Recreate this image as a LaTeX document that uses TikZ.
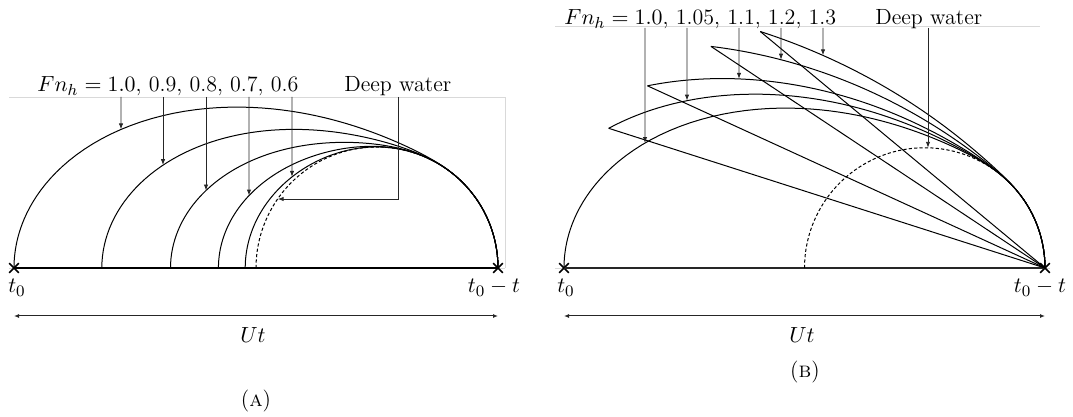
\documentclass[tikz,border=0pt]{standalone}
\usetikzlibrary{arrows.meta,intersections,shapes.misc}
\ExplSyntaxOn
\cs_new:Npn \fpdec #1 { \fp_to_decimal:n { round( #1 , 5 ) } }
\ExplSyntaxOff
\tikzset{
  wave/.style={line width=0.5pt},
  deep/.style={line width=0.5pt, dash pattern=on 1.6pt off 1.1pt},
  pointer/.style={line width=0.45pt, black!85, -{Latex[length=3pt,width=2.2pt]}},
  span/.style={line width=0.5pt, black!85, {Latex[length=2.5pt,width=2pt]}-{Latex[length=2.5pt,width=2pt]}},
  endmark/.style={draw, cross out, line width=0.8pt, minimum size=4pt, inner sep=0pt},
  faint/.style={gray!30, line width=0.4pt},
  lbl/.style={font=\fontsize{11}{13}\selectfont, inner sep=0pt},
}
% points of the wave locus for Froude number #1, q from #2+(#3..)^2 up to #4, then deep-water circle
\newcommand\BuildCurve[4]{%
  \gdef\PtsList{}%
  \edef\SmaxV{\fpeval{sqrt((#4)-(#2))}}%
  \foreach \i in {0,...,120}{%
    \edef\qv{\fpeval{(#2)+((#3)+(\SmaxV-(#3))*\i/120)^2}}%
    \edef\ev{\fpeval{exp(-2*\qv)}}%
    \edef\cv{\fpeval{min(1,sqrt((1-\ev)/(1+\ev)/\qv)/(#1))}}%
    \edef\rv{\fpeval{\cv/2*(1+4*\qv*\ev/(1-\ev*\ev))}}%
    \xdef\PtsList{\PtsList -- (\fpdec{\rv*\cv},\fpdec{\rv*sqrt(1-\cv*\cv)})}%
  }%
  \edef\AngE{\fpeval{2*acosd(sqrt((1-exp(-2*(#4)))/(1+exp(-2*(#4)))/(#4))/(#1))}}%
  \foreach \i in {1,...,40}{%
    \edef\av{\fpeval{\AngE+(180-\AngE)*\i/40}}%
    \xdef\PtsList{\PtsList -- (\fpdec{0.25+0.25*cosd(\av)},\fpdec{0.25*sind(\av)})}%
  }%
}
% #1 F, #2 q0, #3 s0, #4 start coordinate, #5 path name
\newcommand\WaveCurve[5]{%
  \BuildCurve{#1}{#2}{#3}{8}%
  \draw[wave, name path global=#5] (#4) \PtsList;
}
\newcommand\NewtonStep[1]{%
  \edef\TZ{\fpeval{(1-exp(-2*\QZ))/(1+exp(-2*\QZ))}}%
  \edef\QZ{\fpeval{\QZ-(\TZ/\QZ-(#1)^2)/(((1-\TZ^2)*\QZ-\TZ)/\QZ^2)}}%
}
% subcritical: #1 F, #2 initial root guess, #3 name
\newcommand\SubCurve[3]{%
  \edef\QZ{#2}\NewtonStep{#1}\NewtonStep{#1}\NewtonStep{#1}\NewtonStep{#1}%
  \edef\FootX{\fpdec{0.5*(1+4*\QZ*exp(-2*\QZ)/(1-exp(-4*\QZ)))}}%
  \WaveCurve{#1}{\QZ}{0}{\FootX,0}{#3}%
}
% supercritical: #1 F, #2 name
\newcommand\SupCurve[2]{%
  \edef\CuX{\fpdec{1/(#1)^2}}%
  \edef\CuY{\fpdec{sqrt(1-1/(#1)^2)/(#1)}}%
  \coordinate (#2c) at (\CuX,\CuY);
  \WaveCurve{#1}{0}{0.001}{#2c}{#2}%
  \draw[wave] (#2c) -- (EB.center);
}
% #1 x, #2 y top, #3 curve, #4 id
\newcommand\LabArrow[4]{%
  \coordinate (s#4) at (#1,#2);
  \path[name path=v#4] (s#4) -- (#1,150);
  \draw[pointer, name intersections={of=#3 and v#4, by=t#4}] (s#4) -- (t#4);
}
\begin{document}
\begin{tikzpicture}[x=0.5pt, y=0.5pt]
\useasboundingbox (0,0) rectangle (1073,417);

% ---------- faint frame lines ----------
\draw[faint] (9,320) -- (505,320) -- (505,149);
\draw[faint] (9,149) -- (505,149);
\draw[faint] (555,391) -- (1040,391);
\draw[faint] (555,149) -- (1050,149);

% ---------- end markers ----------
\node[endmark] (EA0) at (14,149) {};
\node[endmark] (EA) at (498,149) {};
\node[endmark] (EB0) at (564,149) {};
\node[endmark] (EB) at (1045,149) {};
\draw[line width=1pt] (EA0.center) -- (EA.center);
\draw[line width=1pt, black!85] (EB0.center) -- (EB.center);

% ---------- panel A curves ----------
\begin{scope}[shift={(498,149)}, x={(-242pt,0pt)}, y={(0pt,242pt)}]
  \WaveCurve{1}{0}{0.001}{1,0}{cA10}
  \SubCurve{0.9}{0.8589}{cA09}
  \SubCurve{0.8}{1.3746}{cA08}
  \SubCurve{0.7}{1.9618}{cA07}
  \SubCurve{0.6}{2.7555}{cA06}
  \draw[deep, name path global=dwA] plot[domain=0:180, samples=80] ({0.25+0.25*cos(\x)},{0.25*sin(\x)});
\end{scope}

% ---------- panel B curves ----------
\begin{scope}[shift={(1045,149)}, x={(-240.5pt,0pt)}, y={(0pt,240.5pt)}]
  \WaveCurve{1}{0}{0.001}{1,0}{cB10}
  \SupCurve{1.05}{cB105}
  \SupCurve{1.1}{cB11}
  \SupCurve{1.2}{cB12}
  \SupCurve{1.3}{cB13}
  \draw[deep, name path global=dwB] plot[domain=0:180, samples=80] ({0.25+0.25*cos(\x)},{0.25*sin(\x)});
\end{scope}

% ---------- top labels ----------
\node[lbl, anchor=base west] (fnA) at (37,325) {$Fn_h=1.0$, 0.9, 0.8, 0.7, 0.6};
\node[lbl, anchor=base west] (dwAl) at (344,325) {Deep water};
\node[lbl, anchor=base west] (fnB) at (564,392) {$Fn_h=1.0$, 1.05, 1.1, 1.2, 1.3};
\node[lbl, anchor=base west] (dwBl) at (875,392) {Deep water};

% ---------- label arrows A ----------
\LabArrow{121}{320}{cA10}{A1}
\LabArrow{163}{320}{cA09}{A2}
\LabArrow{206}{320}{cA08}{A3}
\LabArrow{249}{320}{cA07}{A4}
\LabArrow{292}{320}{cA06}{A5}
\coordinate (sDA) at (398,320);
\coordinate (kDA) at (398,218);
\path[name path=hDA] (kDA) -- (250,218);
\draw[pointer, name intersections={of=dwA and hDA, by=tDA}] (sDA) -- (kDA) -- (tDA);

% ---------- label arrows B ----------
\LabArrow{645}{389}{cB10}{B1}
\LabArrow{687}{389}{cB105}{B2}
\LabArrow{739}{389}{cB11}{B3}
\LabArrow{781}{389}{cB12}{B4}
\LabArrow{823}{389}{cB13}{B5}
\LabArrow{928}{389}{dwB}{B6}

% ---------- bottom annotations ----------
\node[lbl, anchor=base] (t0A) at (17,124) {$t_0$};
\node[lbl, anchor=base] (t1A) at (494,124) {$t_0 - t$};
\coordinate (uA1) at (14,101);
\coordinate (uA2) at (498,101);
\draw[span] (uA1) -- (uA2);
\node[lbl, anchor=base] (UtA) at (253,74) {$Ut$};
\node[lbl, anchor=base] (capA) at (256,10) {(\textsc{a})};

\node[lbl, anchor=base] (t0B) at (566,124) {$t_0$};
\node[lbl, anchor=base] (t1B) at (1040,124) {$t_0 - t$};
\coordinate (uB1) at (564,101);
\coordinate (uB2) at (1045,101);
\draw[span] (uB1) -- (uB2);
\node[lbl, anchor=base] (UtB) at (802,74) {$Ut$};
\node[lbl, anchor=base] (capB) at (805,39) {(\textsc{b})};
\end{tikzpicture}
\end{document}
